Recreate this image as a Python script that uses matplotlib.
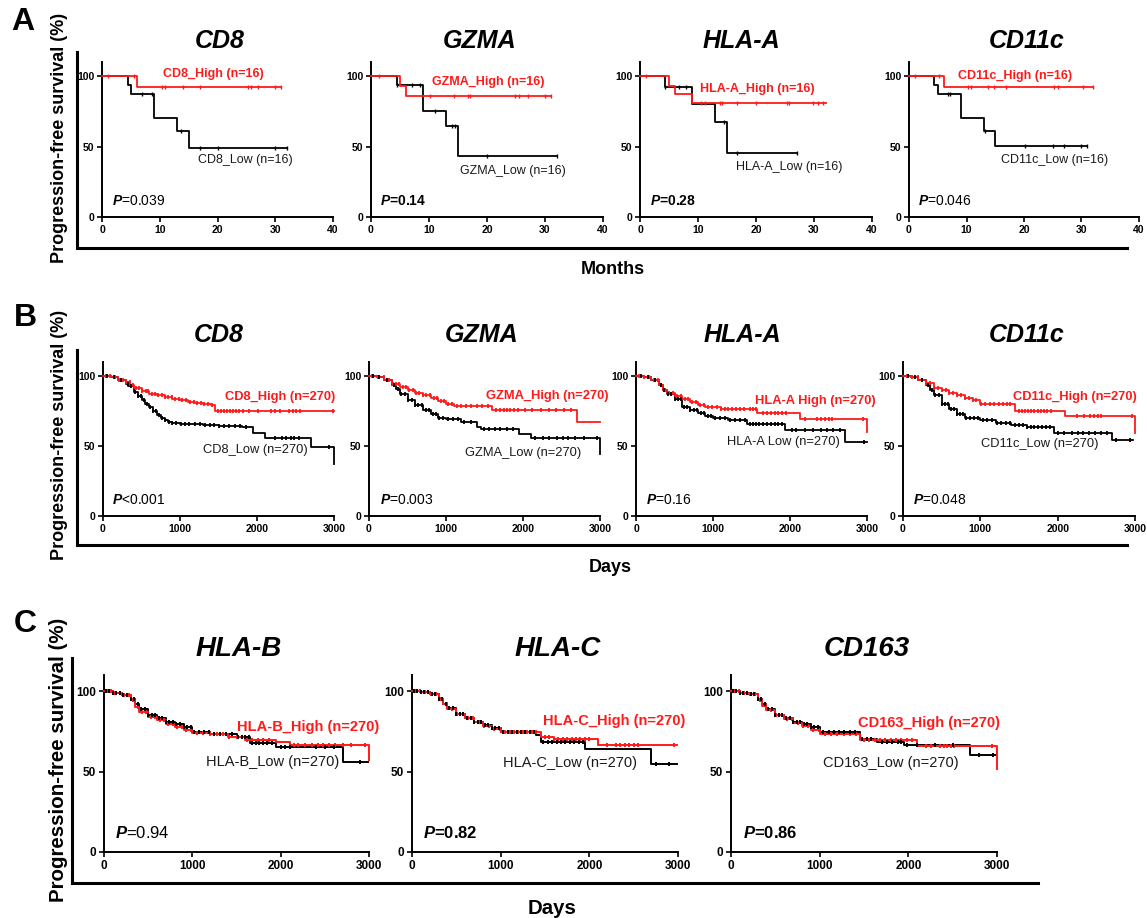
import matplotlib
matplotlib.use("Agg")
import matplotlib.pyplot as plt
import numpy as np
from matplotlib.lines import Line2D

plt.rcParams['font.family'] = ['Liberation Sans', 'DejaVu Sans']
plt.rcParams['mathtext.fontset'] = 'custom'
plt.rcParams['mathtext.it'] = 'Liberation Sans:italic:bold'
plt.rcParams['mathtext.rm'] = 'Liberation Sans'

# ---------------- DATA ----------------
# Panel A (months), n=16 per group
A_genes = ['CD8', 'GZMA', 'HLA-A', 'CD11c']
A_pvals = ['=0.039', '=0.14', '=0.28', '=0.046']
A_xticks = [0, 10, 20, 30, 40]

A_CD8_hi_t = [0, 6, 31]
A_CD8_hi_s = [100, 92, 92]
A_CD8_hi_c = [1, 5.5, 10.4, 10.9, 14, 17, 25.3, 25.8, 27, 30, 31]
A_CD8_lo_t = [0, 4.5, 5, 9, 13, 15, 32]
A_CD8_lo_s = [100, 93.8, 87.5, 70, 61.3, 49, 49]
A_CD8_lo_c = [7, 8.6, 13.6, 17, 20, 30, 32]

A_GZMA_hi_t = [0, 5, 6, 31]
A_GZMA_hi_s = [100, 93, 86, 86]
A_GZMA_hi_c = [1.3, 10.2, 14.3, 16.8, 17, 24.9, 25.5, 27, 30, 31]
A_GZMA_lo_t = [0, 4.5, 9, 13, 15, 32]
A_GZMA_lo_s = [100, 93.8, 75, 64.3, 43, 43]
A_GZMA_lo_c = [4.5, 7.1, 8.5, 11.1, 14, 14.5, 20, 32]

A_HLAA_hi_t = [0, 5, 6, 9, 32]
A_HLAA_hi_s = [100, 93, 87, 81, 81]
A_HLAA_hi_c = [1.1, 10.6, 11.2, 13.8, 14.1, 16.8, 20, 25.3, 25.7, 29.9, 30.7, 31.6]
A_HLAA_lo_t = [0, 4.3, 9, 13, 15, 27]
A_HLAA_lo_s = [100, 92.4, 80.5, 67.4, 45.2, 45.2]
A_HLAA_lo_c = [4.3, 6.8, 8, 14.5, 16.8, 27]

A_CD11c_hi_t = [0, 6, 32]
A_CD11c_hi_s = [100, 92.4, 92.4]
A_CD11c_hi_c = [1, 5.3, 10.3, 10.8, 13.7, 14.7, 16.9, 25.3, 25.9, 30.3, 32]
A_CD11c_lo_t = [0, 4.3, 5, 9, 13, 15, 31]
A_CD11c_lo_s = [100, 93.5, 87.5, 70, 61.2, 50.7, 50.7]
A_CD11c_lo_c = [6.8, 7.2, 13.3, 20.1, 25, 27, 30, 31]

# Panel B (days), n=270 per group
B_genes = ['CD8', 'GZMA', 'HLA-A', 'CD11c']
B_pvals = ['<0.001', '=0.003', '=0.16', '=0.048']
BC_xticks = [0, 1000, 2000, 3000]

B_CD8_hi_t = [0, 100, 200, 300, 350, 400, 500, 600, 700, 800, 900, 1000, 1100, 1200, 1300, 1400, 1450, 3000]
B_CD8_hi_s = [100, 99, 97.5, 95.5, 93.3, 91.4, 89.5, 87.5, 86.2, 85, 83.5, 82.7, 81.5, 80.8, 80, 79, 75, 75]
B_CD8_hi_c = [40, 95, 150, 210, 260, 300, 345, 390, 430, 470, 510, 555, 590, 630, 670, 720, 760, 800, 850, 890,
              940, 985, 1030, 1080, 1130, 1180, 1220, 1270, 1310, 1360, 1410, 1490, 1530, 1570, 1610, 1650, 1690,
              1730, 1770, 1820, 1900, 2010, 2180, 2230, 2300, 2420, 2470, 2510, 2560, 2990]
B_CD8_lo_t = [0, 100, 200, 300, 330, 400, 450, 500, 550, 600, 650, 700, 750, 800, 850, 900, 1000, 1300, 1500,
              1800, 1950, 2100, 2700, 3000]
B_CD8_lo_s = [100, 99, 97, 94.5, 93, 88.6, 85.5, 82.7, 80, 78, 75, 72, 70, 68.4, 67, 66.5, 66, 65.3, 64,
              63.5, 59, 55.5, 49, 37]
B_CD8_lo_c = [55, 140, 230, 320, 360, 410, 450, 490, 530, 570, 610, 650, 690, 730, 770, 810, 860, 900, 950, 1010,
              1060, 1120, 1190, 1260, 1320, 1390, 1440, 1500, 1570, 1640, 1710, 1780, 1860, 2230, 2330, 2380,
              2440, 2480, 2540, 2930]

B_GZMA_hi_t = [0, 100, 200, 300, 400, 500, 600, 700, 800, 900, 1000, 1100, 1600, 2700, 3000]
B_GZMA_hi_s = [100, 99, 97.5, 94.5, 92, 89.8, 88, 86.2, 84, 82, 80.3, 78.4, 76, 67, 67]
B_GZMA_hi_c = [45, 120, 190, 260, 310, 350, 395, 440, 480, 520, 565, 610, 650, 700, 745, 790, 840, 880, 930, 980,
               1030, 1080, 1140, 1200, 1260, 1330, 1400, 1470, 1540, 1650, 1700, 1750, 1790, 1830, 1880, 1930,
               2020, 2120, 2230, 2340, 2430, 2530, 2620]
B_GZMA_lo_t = [0, 100, 200, 300, 350, 400, 500, 600, 700, 800, 900, 1000, 1200, 1400, 1450, 1950, 2100, 3000]
B_GZMA_lo_s = [100, 99, 97, 93.8, 91, 87.4, 82.7, 79, 76, 73.2, 70, 69, 67, 63.7, 62, 58.5, 55.5, 44.6]
B_GZMA_lo_c = [50, 135, 240, 330, 375, 420, 465, 510, 555, 600, 640, 690, 735, 780, 825, 870, 915, 965, 1020,
               1090, 1160, 1240, 1330, 1490, 1560, 1630, 1700, 1790, 1870, 2160, 2260, 2340, 2440, 2520, 2590,
               2680, 2790, 2960]

B_HLAA_hi_t = [0, 100, 200, 300, 350, 400, 500, 600, 700, 800, 900, 1100, 1570, 2130, 3000]
B_HLAA_hi_s = [100, 99, 97, 93.5, 90, 88, 85.5, 83.5, 81.5, 79.3, 78, 76.2, 73.3, 69, 60]
B_HLAA_hi_c = [40, 110, 170, 230, 290, 330, 380, 430, 480, 530, 580, 630, 680, 730, 780, 830, 880, 930, 990,
               1050, 1100, 1150, 1200, 1250, 1300, 1350, 1400, 1480, 1520, 1560, 1650, 1700, 1750, 1800, 1850,
               1900, 1950, 2200, 2350, 2400, 2450, 2500, 2550, 2950]
B_HLAA_lo_t = [0, 100, 200, 300, 350, 400, 500, 600, 700, 800, 900, 1000, 1200, 1440, 1935, 2715, 2995]
B_HLAA_lo_s = [100, 99, 97, 93.5, 90, 87.4, 83.5, 78, 76, 73.3, 71.5, 69.8, 68.6, 65.5, 61.4, 53, 53]
B_HLAA_lo_c = [60, 150, 250, 330, 370, 410, 450, 500, 540, 580, 620, 660, 700, 750, 790, 840, 880, 930, 980,
               1030, 1090, 1150, 1220, 1290, 1350, 1420, 1480, 1520, 1560, 1600, 1650, 1700, 1750, 1800, 1850,
               1900, 2020, 2080, 2200, 2300, 2400, 2480, 2560, 2650, 2960]

B_CD11c_hi_t = [0, 100, 200, 300, 400, 500, 600, 700, 800, 900, 1000, 1450, 2100, 3000]
B_CD11c_hi_s = [100, 99, 97.4, 95, 91.7, 89.8, 88, 86.2, 84.5, 82.7, 80.3, 75, 71.2, 59.4]
B_CD11c_hi_c = [50, 120, 190, 250, 300, 350, 400, 450, 500, 550, 600, 650, 700, 750, 800, 850, 900, 950, 1010,
                1060, 1120, 1180, 1240, 1290, 1340, 1390, 1500, 1540, 1580, 1620, 1660, 1700, 1740, 1780, 1820,
                1860, 1910, 2250, 2340, 2420, 2470, 2520, 2560, 2960]
B_CD11c_lo_t = [0, 100, 200, 300, 350, 400, 500, 600, 700, 800, 1000, 1200, 1400, 1600, 1950, 2700, 2980]
B_CD11c_lo_s = [100, 99, 97, 93.8, 90, 86.2, 80.3, 76.7, 73.2, 70, 68.4, 66.5, 64.8, 63.7, 59.4, 54.2, 54.2]
B_CD11c_lo_c = [60, 150, 240, 320, 370, 420, 460, 500, 540, 580, 620, 660, 700, 740, 780, 820, 870, 920, 970,
                1030, 1090, 1150, 1210, 1270, 1330, 1390, 1450, 1500, 1550, 1600, 1650, 1700, 1750, 1800, 1850,
                1900, 2000, 2080, 2180, 2260, 2330, 2410, 2480, 2560, 2640, 2760, 2930]

# Panel C (days), n=270 per group
C_genes = ['HLA-B', 'HLA-C', 'CD163']
C_pvals = ['=0.94', '=0.82', '=0.86']

C_HLAB_hi_t = [0, 100, 200, 300, 350, 400, 500, 600, 700, 800, 900, 1000, 1200, 1400, 1600, 1950, 2100, 3000]
C_HLAB_hi_s = [100, 99, 97.3, 94.2, 90, 87, 84, 82, 79.8, 77.5, 75.7, 74, 73.2, 71.5, 69.9, 68.5, 66.4, 57.1]
C_HLAB_hi_c = [30, 80, 130, 180, 230, 280, 330, 380, 430, 480, 530, 580, 630, 680, 730, 780, 830, 880, 930, 980,
               1050, 1120, 1200, 1280, 1350, 1420, 1500, 1560, 1620, 1680, 1740, 1800, 1870, 2150, 2200, 2280,
               2350, 2420, 2480, 2550, 2620, 2700, 2800, 2950]
C_HLAB_lo_t = [0, 100, 200, 300, 350, 400, 500, 600, 700, 800, 900, 1000, 1200, 1500, 1650, 1950, 2700, 2990]
C_HLAB_lo_s = [100, 99, 97.5, 95.3, 92, 89, 85, 83, 81, 79.5, 77.7, 74.6, 73.5, 71.5, 67.8, 65.4, 56, 56]
C_HLAB_lo_c = [20, 60, 100, 140, 180, 220, 260, 300, 340, 380, 420, 460, 500, 540, 580, 620, 660, 700, 740, 780,
               820, 860, 900, 940, 980, 1020, 1070, 1130, 1190, 1250, 1310, 1380, 1450, 1520, 1560, 1600, 1640,
               1680, 1720, 1760, 1800, 1850, 1900, 2000, 2050, 2100, 2400, 2500, 2600, 2900]

C_HLAC_hi_t = [0, 100, 200, 300, 350, 400, 500, 600, 700, 800, 900, 1000, 1450, 1600, 2100, 2990]
C_HLAC_hi_s = [100, 99.2, 98.3, 95.2, 92, 89, 86, 83.5, 80.7, 78.5, 76.6, 74.5, 71.4, 70.4, 66.3, 66.3]
C_HLAC_hi_c = [30, 90, 150, 210, 270, 330, 390, 450, 510, 570, 630, 690, 750, 810, 870, 930, 990, 1050, 1100,
               1150, 1200, 1250, 1300, 1350, 1400, 1500, 1550, 1600, 1650, 1700, 1750, 1800, 1850, 1900, 1950,
               2000, 2200, 2300, 2350, 2400, 2450, 2500, 2550, 2950]
C_HLAC_lo_t = [0, 100, 200, 300, 350, 400, 500, 600, 700, 800, 900, 1000, 1400, 1450, 1950, 2700, 2990]
C_HLAC_lo_s = [100, 99.2, 98, 95.2, 92, 89.6, 86, 83, 81, 79, 77.2, 74.5, 73, 68.3, 64.2, 54.8, 54.8]
C_HLAC_lo_c = [20, 60, 100, 140, 180, 220, 260, 300, 340, 380, 420, 460, 500, 540, 580, 620, 660, 700, 740, 780,
               820, 860, 900, 940, 980, 1030, 1080, 1130, 1180, 1230, 1280, 1330, 1380, 1480, 1530, 1580, 1630,
               1680, 1730, 1780, 1830, 1880, 1930, 2750, 2900]

C_CD163_hi_t = [0, 100, 200, 300, 350, 400, 500, 600, 700, 800, 900, 1000, 1450, 2100, 3000]
C_CD163_hi_s = [100, 99, 97.9, 94.2, 91, 88, 84.9, 82.5, 80.1, 78, 76, 73.5, 69.4, 65.6, 51.8]
C_CD163_hi_c = [30, 90, 150, 210, 270, 330, 390, 450, 510, 570, 630, 690, 750, 810, 870, 930, 990, 1060, 1130,
                1200, 1270, 1340, 1410, 1500, 1560, 1620, 1680, 1740, 1800, 1860, 1920, 1980, 2040, 2200, 2260,
                2360, 2400, 2440, 2480, 2520, 2940]
C_CD163_lo_t = [0, 100, 200, 300, 350, 400, 500, 600, 700, 800, 900, 1000, 1450, 1650, 1950, 2700, 2990]
C_CD163_lo_s = [100, 99, 98, 95.3, 92, 89, 85, 83, 81, 79.5, 77.7, 74.5, 70.4, 68.3, 66.3, 60.1, 60.1]
C_CD163_lo_c = [20, 60, 100, 140, 180, 220, 260, 300, 340, 380, 420, 460, 500, 540, 580, 620, 660, 700, 740, 780,
                820, 860, 900, 940, 980, 1040, 1100, 1160, 1220, 1280, 1340, 1400, 1480, 1530, 1580, 1700, 1760,
                1820, 1880, 1920, 1990, 2100, 2300, 2500, 2800, 2960]

y_ticks = [0, 50, 100]

# ---------------- LAYOUT / STYLE ----------------
W, H = 1147, 918
fig = plt.figure(figsize=(W / 100, H / 100), dpi=100)
RED = '#ff1a1a'


def rect(x0, x1, ytop, ybot):
    return [x0 / W, 1 - ybot / H, (x1 - x0) / W, (ybot - ytop) / H]


def fx(x):
    return x / W


def fy(y):
    return 1 - y / H


def km(ax, t, s, c, color, lw, ms, mew, draw_line=True, draw_cens=True):
    t = np.asarray(t, float)
    s = np.asarray(s, float)
    if draw_line:
        ax.step(t, s, where='post', color=color, lw=lw, clip_on=False, zorder=3)
    if draw_cens:
        c = np.asarray(c, float)
        idx = np.searchsorted(t, c, side='right') - 1
        ax.plot(c, s[idx], ls='none', marker='|', ms=ms, mew=mew, color=color,
                clip_on=False, zorder=4)


def setup_axes(ax, xmax, xticks, tsize):
    ax.set_xlim(0, xmax)
    ax.set_ylim(0, 110)
    for sp in ['top', 'right']:
        ax.spines[sp].set_visible(False)
    for sp in ['left', 'bottom']:
        ax.spines[sp].set_linewidth(1.4)
    ax.set_xticks(xticks)
    ax.set_xticklabels([str(v) for v in xticks], fontweight='bold', fontsize=tsize)
    ax.set_yticks(y_ticks)
    ax.set_yticklabels([str(v) for v in y_ticks], fontweight='bold', fontsize=tsize)
    ax.tick_params(direction='out', length=3.5, width=1.2, pad=2)
    ax.patch.set_alpha(0)


def panel(genes, pvals, curves, axes_x, ytop, ybot, xmax, xticks, tsize,
          titles_xy, tsz, hi_xy, lo_xy, hi_lbl, lo_lbl, p_x, p_y, psz, lsz,
          lo_weight, p_weights, lw, ms, mew):
    for i, g in enumerate(genes):
        ax = fig.add_axes(rect(axes_x[i][0], axes_x[i][1], ytop, ybot))
        setup_axes(ax, xmax, xticks, tsize)
        th, sh, ch, tl, sl, cl = curves[i]
        km(ax, tl, sl, cl, 'black', lw, ms, mew, draw_cens=False)
        km(ax, th, sh, ch, RED, lw, ms, mew, draw_cens=False)
        km(ax, th, sh, ch, RED, lw, ms, mew, draw_line=False)
        km(ax, tl, sl, cl, 'black', lw, ms, mew, draw_line=False)
        ax.text(hi_xy[i][0], hi_xy[i][1], hi_lbl[i], color=RED, fontsize=lsz,
                fontweight='bold', ha='center', va='center', zorder=5)
        ax.text(lo_xy[i][0], lo_xy[i][1], lo_lbl[i], color='#1a1a1a', fontsize=lsz,
                fontweight=lo_weight, ha='center', va='center', zorder=5)
        ax.text(p_x[i], p_y, r'$\mathit{P}$' + pvals[i], fontsize=psz,
                fontweight=p_weights[i], ha='left', va='center')
        fig.text(fx(titles_xy[i][0]), fy(titles_xy[i][1]), g, fontsize=tsz,
                 fontweight='bold', fontstyle='italic', ha='center', va='center')


# Panel A
A_curves = [
    (A_CD8_hi_t, A_CD8_hi_s, A_CD8_hi_c, A_CD8_lo_t, A_CD8_lo_s, A_CD8_lo_c),
    (A_GZMA_hi_t, A_GZMA_hi_s, A_GZMA_hi_c, A_GZMA_lo_t, A_GZMA_lo_s, A_GZMA_lo_c),
    (A_HLAA_hi_t, A_HLAA_hi_s, A_HLAA_hi_c, A_HLAA_lo_t, A_HLAA_lo_s, A_HLAA_lo_c),
    (A_CD11c_hi_t, A_CD11c_hi_s, A_CD11c_hi_c, A_CD11c_lo_t, A_CD11c_lo_s, A_CD11c_lo_c),
]
panel(A_genes, A_pvals, A_curves,
      [(102, 333), (371, 603), (640, 872), (909, 1139)], 62, 217, 40, A_xticks, 7.5,
      [(220, 41), (480, 41), (741, 41), (1027, 41)], 18,
      [(19.2, 101.4), (20.2, 95.7), (20.2, 90.8), (18.4, 100)],
      [(24.8, 40.4), (24.5, 32.6), (25.7, 35.5), (25.4, 40.4)],
      [g + '_High (n=16)' for g in A_genes], [g + '_Low (n=16)' for g in A_genes],
      [1.7, 1.5, 1.7, 1.6], 11.3, 10, 9, 'normal',
      ['normal', 'bold', 'bold', 'normal'], 1.3, 3, 1.0)

# Panel B
B_curves = [
    (B_CD8_hi_t, B_CD8_hi_s, B_CD8_hi_c, B_CD8_lo_t, B_CD8_lo_s, B_CD8_lo_c),
    (B_GZMA_hi_t, B_GZMA_hi_s, B_GZMA_hi_c, B_GZMA_lo_t, B_GZMA_lo_s, B_GZMA_lo_c),
    (B_HLAA_hi_t, B_HLAA_hi_s, B_HLAA_hi_c, B_HLAA_lo_t, B_HLAA_lo_s, B_HLAA_lo_c),
    (B_CD11c_hi_t, B_CD11c_hi_s, B_CD11c_hi_c, B_CD11c_lo_t, B_CD11c_lo_s, B_CD11c_lo_c),
]
panel(B_genes, B_pvals, B_curves,
      [(103, 334), (369, 600), (636, 867), (903, 1135)], 362, 516, 3000, BC_xticks, 7.5,
      [(219, 335), (482, 335), (742, 335), (1027, 335)], 18,
      [(2300, 85), (2310, 85.7), (2325, 82), (2220, 85)],
      [(1975, 47), (2000, 45), (1910, 53), (1766, 51.4)],
      ['CD8_High (n=270)', 'GZMA_High (n=270)', 'HLA-A High (n=270)', 'CD11c_High (n=270)'],
      ['CD8_Low (n=270)', 'GZMA_Low (n=270)', 'HLA-A Low (n=270)', 'CD11c_Low (n=270)'],
      [117, 143, 130, 130], 11.4, 10, 9.3, 'normal',
      ['normal', 'normal', 'normal', 'normal'], 1.3, 2.8, 1.3)

# Panel C
C_curves = [
    (C_HLAB_hi_t, C_HLAB_hi_s, C_HLAB_hi_c, C_HLAB_lo_t, C_HLAB_lo_s, C_HLAB_lo_c),
    (C_HLAC_hi_t, C_HLAC_hi_s, C_HLAC_hi_c, C_HLAC_lo_t, C_HLAC_lo_s, C_HLAC_lo_c),
    (C_CD163_hi_t, C_CD163_hi_s, C_CD163_hi_c, C_CD163_lo_t, C_CD163_lo_s, C_CD163_lo_c),
]
panel(C_genes, C_pvals, C_curves,
      [(104, 369), (412, 678), (731, 997)], 675, 852, 3000, BC_xticks, 8.5,
      [(239, 649), (558, 649), (867, 649)], 20,
      [(2310, 77.6), (2276, 81.4), (2230, 80)],
      [(1913, 56), (1778, 55), (1800, 55)],
      [g + '_High (n=270)' for g in C_genes], [g + '_Low (n=270)' for g in C_genes],
      [125, 125, 135], 11.8, 12, 10.5, 'normal',
      ['normal', 'bold', 'bold'], 1.4, 3, 1.4)

# Outer L frames
for (x0, x1, yt, yb) in [(77, 1127, 52, 248), (77, 1127, 350, 545), (72, 1038, 658, 883)]:
    fig.add_artist(Line2D([fx(x0), fx(x0), fx(x1)], [fy(yt), fy(yb), fy(yb)],
                          lw=2.2, color='black', solid_joinstyle='miter'))

# Shared labels
ylab = 'Progression-free survival (%)'
fig.text(fx(59), fy(138), ylab, rotation=90, fontsize=13, fontweight='bold', ha='center', va='center')
fig.text(fx(59), fy(435), ylab, rotation=90, fontsize=13, fontweight='bold', ha='center', va='center')
fig.text(fx(58), fy(760), ylab, rotation=90, fontsize=14.8, fontweight='bold', ha='center', va='center')
fig.text(fx(613), fy(269), 'Months', fontsize=13, fontweight='bold', ha='center', va='center')
fig.text(fx(610), fy(567), 'Days', fontsize=13, fontweight='bold', ha='center', va='center')
fig.text(fx(552), fy(908), 'Days', fontsize=14.7, fontweight='bold', ha='center', va='center')

for lab, x, y in [('A', 23, 22), ('B', 25, 318), ('C', 25, 624)]:
    fig.text(fx(x), fy(y), lab, fontsize=23, fontweight='bold', ha='center', va='center')

fig.savefig('out.png', dpi=100)
